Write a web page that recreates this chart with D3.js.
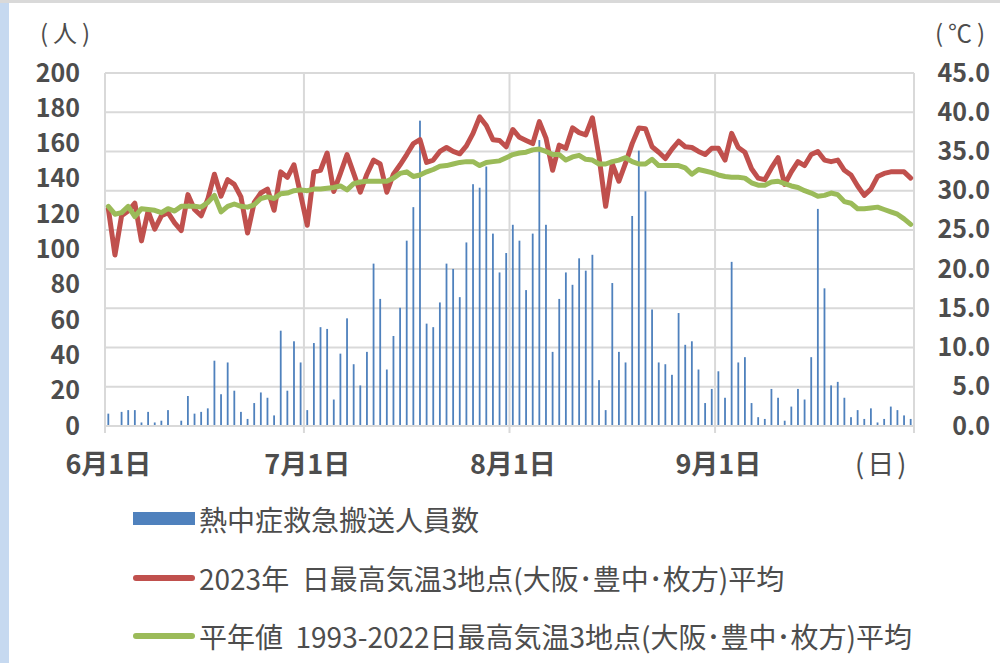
<!DOCTYPE html>
<html lang="ja">
<head>
<meta charset="utf-8">
<script src="https://cdn.jsdelivr.net/npm/d3@7"></script>
<style>
  body { margin: 0; background: #fff; }
  svg { display: block; font-family: "Noto Sans CJK JP", "Noto Sans", sans-serif; }
</style>
</head>
<body>
<div id="chart"></div>
<script>
"use strict";

// 熱中症救急搬送人員数 (人), 6/1 - 9/30
const transportJun = [7, 0, 8, 9, 9, 2, 8, 2, 3, 9, 0, 3, 17, 7, 8, 10, 37, 18, 36, 20, 8, 4, 13, 19, 16, 6, 54, 20, 48, 36];
const transportJul = [9, 47, 56, 55, 15, 41, 61, 35, 23, 42, 92, 72, 32, 51, 67, 105, 124, 173, 58, 56, 70, 92, 89, 73, 104, 137, 135, 147, 109, 87, 98];
const transportAug = [114, 105, 77, 109, 162, 114, 42, 72, 87, 80, 95, 88, 97, 26, 9, 81, 42, 36, 119, 156, 133, 66, 36, 35, 29, 64, 46, 48, 32, 13, 21];
const transportSep = [31, 16, 93, 36, 39, 13, 5, 4, 21, 16, 3, 11, 21, 15, 39, 123, 78, 23, 25, 16, 5, 9, 4, 10, 2, 4, 11, 9, 6, 4];

// 2023年 日最高気温 3地点平均 (℃)
const temp2023Jun = [27.7, 21.8, 26.8, 27.4, 28.4, 23.6, 27.4, 25.1, 26.8, 27.2, 25.9, 24.9, 29.5, 27.6, 26.8, 28.9, 32.1, 29.3, 31.4, 30.8, 29.2, 24.6, 28.5, 29.7, 30.2, 27.5, 32.4, 31.7, 33.3, 29.5];
const temp2023Jul = [25.6, 32.4, 32.6, 34.8, 29.9, 32.2, 34.6, 32.2, 29.8, 32.1, 33.9, 33.4, 29.8, 32.1, 33.3, 34.6, 36.0, 36.5, 33.6, 33.9, 35.0, 35.5, 35.0, 34.7, 35.7, 37.3, 39.4, 38.3, 36.5, 36.4, 35.6];
const temp2023Aug = [37.8, 36.8, 36.4, 36.0, 38.8, 36.7, 32.6, 35.8, 35.4, 38.0, 37.4, 37.1, 39.3, 34.3, 28.0, 33.4, 31.2, 33.5, 36.0, 38.0, 37.9, 35.6, 34.9, 34.1, 35.3, 36.3, 35.6, 35.5, 35.0, 34.6, 35.4];
const temp2023Sep = [35.4, 33.9, 37.3, 35.5, 34.9, 32.8, 31.6, 31.4, 32.9, 34.2, 30.8, 32.4, 33.7, 33.2, 34.6, 35.0, 33.9, 33.7, 33.9, 32.6, 32.0, 30.6, 29.4, 30.2, 31.8, 32.2, 32.4, 32.4, 32.4, 31.6];

// 平年値 1993-2022 日最高気温 3地点平均 (℃)
const normalJun = [28.0, 27.0, 27.2, 28.0, 26.7, 27.7, 27.6, 27.5, 27.2, 27.7, 27.4, 28.0, 28.0, 28.0, 27.9, 28.5, 29.4, 27.3, 28.0, 28.3, 28.0, 27.9, 28.2, 29.0, 29.2, 29.0, 29.6, 29.7, 30.0, 30.1];
const normalJul = [30.0, 30.2, 30.2, 30.3, 30.4, 30.6, 30.1, 30.9, 31.1, 31.2, 31.2, 31.2, 31.2, 31.6, 32.2, 32.4, 31.8, 32.0, 32.4, 32.7, 33.1, 33.2, 33.4, 33.6, 33.7, 33.7, 33.2, 33.6, 33.7, 33.8, 34.2];
const normalAug = [34.6, 34.8, 34.9, 35.2, 35.3, 35.0, 34.6, 34.6, 33.9, 34.3, 34.5, 34.0, 33.9, 33.4, 33.4, 33.7, 33.9, 34.2, 33.7, 33.4, 33.4, 34.0, 33.2, 33.2, 33.2, 33.2, 32.9, 32.1, 32.7, 32.5, 32.3];
const normalSep = [32.0, 31.8, 31.7, 31.7, 31.6, 31.0, 30.7, 30.7, 31.1, 31.2, 30.9, 30.6, 30.4, 30.0, 29.7, 29.3, 29.4, 29.7, 29.5, 28.6, 28.4, 27.7, 27.7, 27.8, 27.9, 27.6, 27.3, 27.0, 26.4, 25.7];

const leftTicks = [0, 20, 40, 60, 80, 100, 120, 140, 160, 180, 200];
const rightTicks = [0, 5, 10, 15, 20, 25, 30, 35, 40, 45];
const legendLabels = [
    "熱中症救急搬送人員数",
    "2023年  日最高気温3地点(大阪･豊中･枚方)平均",
    "平年値  1993-2022日最高気温3地点(大阪･豊中･枚方)平均"
];

const transport = [...transportJun, ...transportJul, ...transportAug, ...transportSep];
const temp2023 = [...temp2023Jun, ...temp2023Jul, ...temp2023Aug, ...temp2023Sep];
const tempNormal = [...normalJun, ...normalJul, ...normalAug, ...normalSep];
const dates = d3.timeDay.range(new Date(2023, 5, 1), new Date(2023, 9, 1));
const monthStarts = dates.filter(d => d.getDate() === 1);

const rows = dates.map((d, i) => ({ date: +d, n: transport[i], t23: temp2023[i], tn: tempNormal[i] }));

const width = 1000;
const height = 663;
const plot = { left: 105, right: 914, top: 73, bottom: 426 };
const textColor = "#4d4d4d";
const gridColor = "#d9d9d9";

const svg = d3.select("#chart")
    .append("svg")
    .attr("width", width)
    .attr("height", height);

// frame edges of the screenshot
svg.append("rect").attr("x", 0).attr("y", 0).attr("width", width).attr("height", 3).attr("fill", "#d9d9d9");
svg.append("rect").attr("x", 0).attr("y", 3).attr("width", 9).attr("height", height - 3).attr("fill", "#c6d9f0");

const x = d3.scaleBand()
    .domain(rows.map(d => d.date))
    .range([plot.left, plot.right])
    .padding(0);

const yLeft = d3.scaleLinear().domain([0, 200]).range([plot.bottom, plot.top]);
const yRight = d3.scaleLinear().domain([0, 45]).range([plot.bottom, plot.top]);
const cx = d => x(d) + x.bandwidth() / 2;

// gridlines
const grid = svg.append("g").attr("stroke", gridColor).attr("stroke-width", 2);
grid.selectAll(".h")
    .data(rightTicks)
    .enter().append("line")
    .attr("x1", plot.left).attr("x2", plot.right)
    .attr("y1", d => yRight(d)).attr("y2", d => yRight(d));
grid.selectAll(".v")
    .data(monthStarts)
    .enter().append("line")
    .attr("x1", d => x(+d)).attr("x2", d => x(+d))
    .attr("y1", plot.top).attr("y2", plot.bottom + 7);
grid.append("line")
    .attr("x1", plot.right).attr("x2", plot.right)
    .attr("y1", plot.top).attr("y2", plot.bottom + 7);

// bars
const barW = 1.8;
svg.append("g")
    .selectAll("rect")
    .data(rows)
    .enter().append("rect")
    .attr("x", d => cx(d.date) - barW / 2)
    .attr("width", barW)
    .attr("y", d => yLeft(d.n))
    .attr("height", d => plot.bottom - yLeft(d.n))
    .attr("fill", "#4f81bd");

// lines
const line23 = d3.line().x(d => cx(d.date)).y(d => yRight(d.t23));
const lineN = d3.line().x(d => cx(d.date)).y(d => yRight(d.tn));

svg.append("path")
    .datum(rows)
    .attr("d", line23)
    .attr("fill", "none")
    .attr("stroke", "#c0504d")
    .attr("stroke-width", 5)
    .attr("stroke-linejoin", "round")
    .attr("stroke-linecap", "round");

svg.append("path")
    .datum(rows)
    .attr("d", lineN)
    .attr("fill", "none")
    .attr("stroke", "#9bbb59")
    .attr("stroke-width", 5)
    .attr("stroke-linejoin", "round")
    .attr("stroke-linecap", "round");

// axes
const leftAxis = svg.append("g")
    .attr("transform", "translate(83,0)")
    .call(d3.axisLeft(yLeft).tickValues(leftTicks).tickSize(0).tickPadding(3).tickFormat(d3.format("d")));

const rightAxis = svg.append("g")
    .attr("transform", "translate(993,0)")
    .call(d3.axisLeft(yRight).tickValues(rightTicks).tickSize(0).tickPadding(3).tickFormat(d3.format(".1f")));

const bottomAxis = svg.append("g")
    .attr("transform", "translate(0," + plot.bottom + ")")
    .call(d3.axisBottom(x)
        .tickValues(monthStarts.map(d => +d))
        .tickSize(0)
        .tickPadding(29)
        .tickFormat(d => {
            const dt = new Date(d);
            return (dt.getMonth() + 1) + "月" + dt.getDate() + "日";
        }));

[leftAxis, rightAxis, bottomAxis].forEach(g => {
    g.select(".domain").remove();
    g.selectAll("text")
        .attr("fill", textColor)
        .style("font-family", "'Noto Sans CJK JP', sans-serif")
        .style("font-weight", 700);
});
leftAxis.selectAll("text").style("font-size", "25px");
rightAxis.selectAll("text").style("font-size", "25px");
bottomAxis.selectAll("text").style("font-size", "27px");

svg.append("line")
    .attr("x1", plot.left).attr("x2", plot.right)
    .attr("y1", plot.bottom).attr("y2", plot.bottom)
    .attr("stroke", gridColor).attr("stroke-width", 2);

// unit labels
const unit = svg.append("g")
    .attr("fill", textColor)
    .style("font-size", "24px")
    .style("letter-spacing", "5px");
unit.append("text").attr("x", 40).attr("y", 42).text("(人)");
unit.append("text").attr("x", 935).attr("y", 42).text("(℃)");
unit.append("text").attr("x", 855).attr("y", 474)
    .style("font-size", "27px").style("letter-spacing", "3px").text("(日)");

// legend
const legend = svg.append("g")
    .style("font-size", "28px")
    .attr("fill", textColor);

legend.append("rect")
    .attr("x", 133).attr("y", 512).attr("width", 62).attr("height", 13)
    .attr("fill", "#4f81bd");
legend.append("line")
    .attr("x1", 136).attr("x2", 192).attr("y1", 578).attr("y2", 578)
    .attr("stroke", "#c0504d").attr("stroke-width", 6).attr("stroke-linecap", "round");
legend.append("line")
    .attr("x1", 136).attr("x2", 192).attr("y1", 636).attr("y2", 636)
    .attr("stroke", "#9bbb59").attr("stroke-width", 6).attr("stroke-linecap", "round");

legend.selectAll(".lt")
    .data(legendLabels)
    .enter().append("text")
    .attr("x", 199)
    .attr("y", (d, i) => [519, 578, 636][i])
    .attr("dominant-baseline", "central")
    .style("white-space", "pre")
    .text(d => d);
</script>
</body>
</html>
